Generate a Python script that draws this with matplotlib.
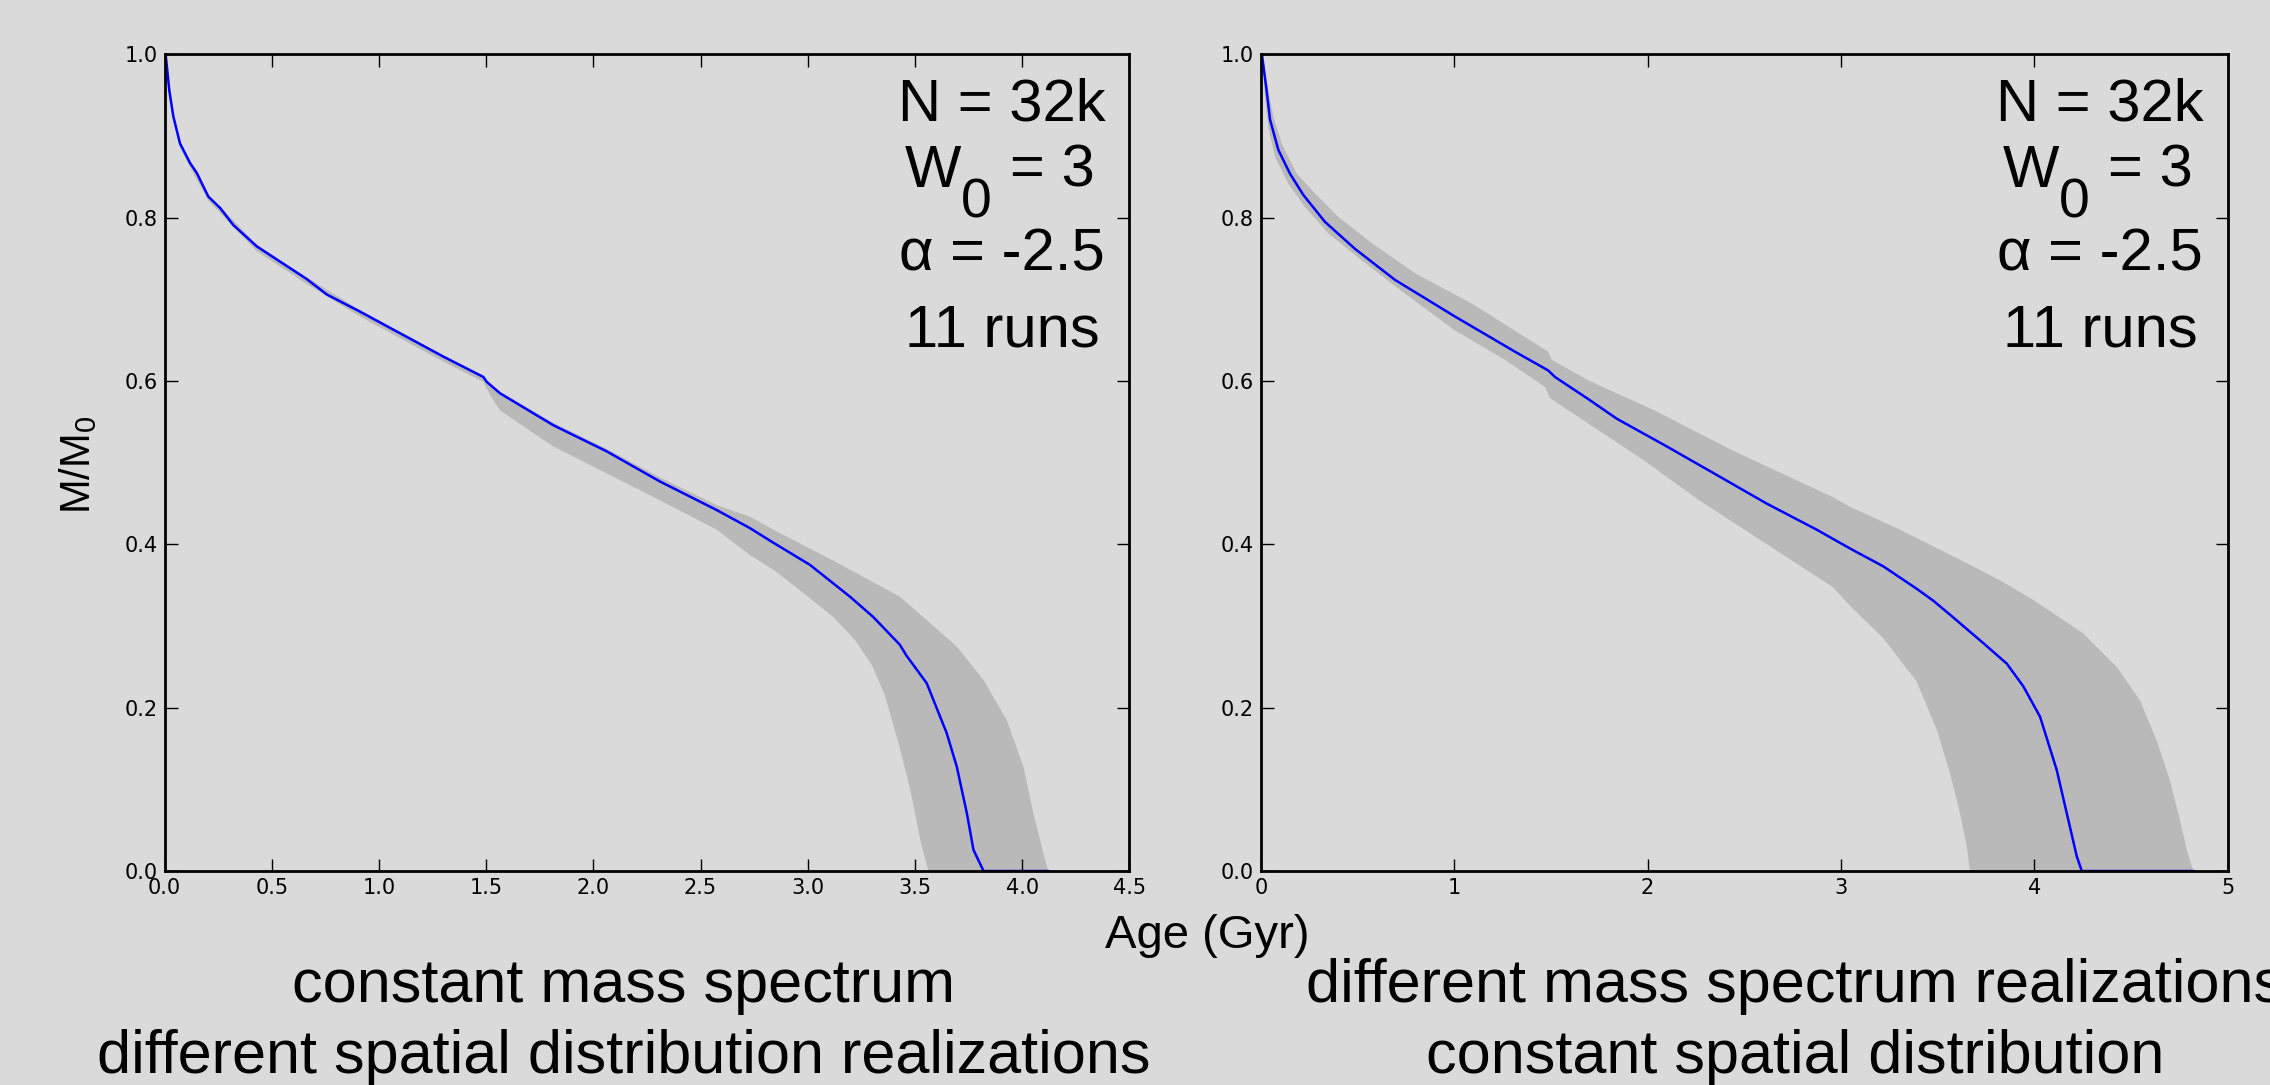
import numpy as np
import matplotlib
matplotlib.use("Agg")
import matplotlib.pyplot as plt

plt.rcParams['font.family'] = ['Liberation Sans', 'DejaVu Sans']
plt.rcParams['mathtext.fontset'] = 'custom'
plt.rcParams['mathtext.rm'] = 'Liberation Sans'
plt.rcParams['mathtext.it'] = 'Liberation Sans:italic'
plt.rcParams['mathtext.default'] = 'regular'

# left panel: constant mass spectrum, different spatial realizations
age_l = [0.005, 0.022, 0.041, 0.072, 0.119, 0.15, 0.204, 0.259, 0.321, 0.43, 0.523, 0.663,
         0.757, 0.912, 1.067, 1.30, 1.487, 1.503, 1.565, 1.813, 2.062, 2.311, 2.576, 2.73,
         2.84, 3.01, 3.197, 3.306, 3.43, 3.46, 3.555, 3.648, 3.695, 3.742, 3.773, 3.82, 4.12]
mass_l = [1.0, 0.956, 0.924, 0.891, 0.867, 0.855, 0.826, 0.812, 0.791, 0.765, 0.749, 0.725,
          0.706, 0.685, 0.663, 0.630, 0.605, 0.599, 0.585, 0.546, 0.514, 0.477, 0.442, 0.420,
          0.402, 0.375, 0.336, 0.311, 0.277, 0.264, 0.230, 0.169, 0.128, 0.071, 0.026, 0.0, 0.0]
up_age_l = [0.005, 0.022, 0.041, 0.072, 0.119, 0.204, 0.259, 0.43, 0.663, 0.912, 1.067, 1.30,
            1.487, 1.50, 1.565, 1.813, 2.062, 2.311, 2.576, 2.73, 2.84, 3.12, 3.43, 3.508,
            3.695, 3.82, 3.928, 4.006, 4.052, 4.099, 4.122]
up_mass_l = [1.0, 0.958, 0.926, 0.893, 0.869, 0.828, 0.814, 0.767, 0.727, 0.687, 0.665, 0.632,
             0.607, 0.601, 0.587, 0.549, 0.517, 0.482, 0.448, 0.434, 0.418, 0.380, 0.336, 0.318,
             0.275, 0.234, 0.185, 0.128, 0.071, 0.022, 0.0]
lo_age_l = [0.005, 0.022, 0.041, 0.072, 0.119, 0.204, 0.259, 0.43, 0.663, 0.912, 1.067, 1.30,
            1.487, 1.52, 1.565, 1.813, 2.062, 2.311, 2.576, 2.73, 2.84, 2.963, 3.12, 3.22,
            3.30, 3.36, 3.42, 3.479, 3.525, 3.563]
lo_mass_l = [0.998, 0.952, 0.919, 0.886, 0.862, 0.821, 0.806, 0.759, 0.719, 0.679, 0.657, 0.624,
             0.599, 0.582, 0.564, 0.520, 0.487, 0.454, 0.418, 0.387, 0.369, 0.344, 0.311, 0.283,
             0.252, 0.215, 0.160, 0.099, 0.038, 0.0]

# right panel: different mass spectrum realizations, constant spatial distribution
age_r = [0.005, 0.029, 0.047, 0.09, 0.15, 0.219, 0.331, 0.486, 0.693, 1.004, 1.314, 1.486,
         1.521, 1.693, 1.84, 2.099, 2.358, 2.616, 2.875, 3.047, 3.22, 3.39, 3.478, 3.564,
         3.737, 3.858, 3.944, 4.03, 4.116, 4.168, 4.22, 4.246, 4.823]
mass_r = [1.0, 0.956, 0.920, 0.883, 0.854, 0.828, 0.795, 0.762, 0.724, 0.679, 0.636, 0.613,
          0.605, 0.578, 0.554, 0.520, 0.485, 0.450, 0.418, 0.395, 0.373, 0.346, 0.331, 0.314,
          0.279, 0.254, 0.226, 0.189, 0.124, 0.071, 0.018, 0.0, 0.0]
up_age_r = [0.005, 0.038, 0.064, 0.107, 0.185, 0.279, 0.40, 0.573, 0.797, 1.09, 1.486, 1.504,
            1.693, 1.84, 2.038, 2.185, 2.44, 2.957, 3.047, 3.306, 3.651, 3.823, 3.995, 4.254,
            4.426, 4.547, 4.633, 4.702, 4.754, 4.789, 4.823]
up_mass_r = [1.0, 0.956, 0.924, 0.891, 0.854, 0.830, 0.801, 0.769, 0.732, 0.695, 0.636, 0.626,
             0.601, 0.585, 0.564, 0.546, 0.515, 0.458, 0.446, 0.418, 0.377, 0.356, 0.332, 0.291,
             0.250, 0.209, 0.160, 0.111, 0.062, 0.026, 0.0]
lo_age_r = [0.005, 0.02, 0.038, 0.072, 0.141, 0.228, 0.348, 0.521, 0.745, 1.004, 1.262, 1.469,
            1.495, 1.693, 1.98, 2.267, 2.612, 2.957, 3.047, 3.22, 3.392, 3.496, 3.564, 3.616,
            3.651, 3.668]
lo_mass_r = [1.0, 0.948, 0.911, 0.875, 0.842, 0.813, 0.781, 0.748, 0.707, 0.662, 0.626, 0.593,
             0.579, 0.548, 0.503, 0.454, 0.401, 0.348, 0.325, 0.285, 0.232, 0.173, 0.120, 0.071,
             0.030, 0.0]

xticks_l = [0.0, 0.5, 1.0, 1.5, 2.0, 2.5, 3.0, 3.5, 4.0, 4.5]
xticks_r = [0, 1, 2, 3, 4, 5]
yticks = [0.0, 0.2, 0.4, 0.6, 0.8, 1.0]
info = ["N = 32k", "α = -2.5", "11 runs"]
info_y = [0.919, 0.736, 0.642]

bg = '#dadada'
band = '#b9b9b9'

fig = plt.figure(figsize=(22.7, 10.85), dpi=100, facecolor=bg)
ax1 = fig.add_axes([0.0725, 0.1972, 0.425, 0.7526])
ax2 = fig.add_axes([0.5555, 0.1972, 0.4258, 0.7526])

panels = [
    (ax1, age_l, mass_l, up_age_l, up_mass_l, lo_age_l, lo_mass_l, 4.5, xticks_l, '%.1f'),
    (ax2, age_r, mass_r, up_age_r, up_mass_r, lo_age_r, lo_mass_r, 5, xticks_r, '%d'),
]
for ax, a, m, ua, um, la, lm, xmax, xt, fmt in panels:
    ax.set_facecolor('none')
    ax.fill(np.concatenate([ua, la[::-1]]), np.concatenate([um, lm[::-1]]),
            color=band, lw=0, zorder=1)
    ax.plot(a, m, color='#0000ff', lw=1.8, zorder=2)
    ax.set_xlim(0, xmax)
    ax.set_ylim(0, 1.0)
    ax.set_xticks(xt)
    ax.set_xticklabels([fmt % v for v in xt])
    ax.set_yticks(yticks)
    ax.set_yticklabels(['%.1f' % v for v in yticks])
    ax.tick_params(direction='in', length=9, width=1, top=True, right=True,
                   labelsize=15, pad=5, colors='black')
    for lab in ax.get_xticklabels() + ax.get_yticklabels():
        lab.set_fontfamily('DejaVu Sans')
    for sp in ax.spines.values():
        sp.set_linewidth(2)
    for txt, yy in zip(info, info_y):
        ax.text(0.868, yy, txt, transform=ax.transAxes, ha='center', va='baseline',
                fontsize=43)
    # W0 line: the subscript zero is drawn nearly full size in the original
    ax.text(0.7675, 0.838, "W", transform=ax.transAxes, ha='left', va='baseline', fontsize=43)
    ax.text(0.8255, 0.800, "0", transform=ax.transAxes, ha='left', va='baseline', fontsize=40)
    ax.text(0.876, 0.838, "= 3", transform=ax.transAxes, ha='left', va='baseline', fontsize=43)

fig.text(1207 / 2270, 1 - 948 / 1085, "Age (Gyr)", ha='center', va='baseline', fontsize=34)
fig.text(78 / 2270, 1 - 465 / 1085, "M/M$_0$", ha='center', va='center', rotation=90,
         fontsize=30)

fig.text(624 / 2270, 1 - 1002 / 1085, "constant mass spectrum", ha='center', va='baseline',
         fontsize=44)
fig.text(624 / 2270, 1 - 1073 / 1085, "different spatial distribution realizations",
         ha='center', va='baseline', fontsize=44)
fig.text(1795 / 2270, 1 - 1002 / 1085, "different mass spectrum realizations", ha='center',
         va='baseline', fontsize=44)
fig.text(1795 / 2270, 1 - 1073 / 1085, "constant spatial distribution", ha='center',
         va='baseline', fontsize=44)

fig.savefig("out.png", dpi=100, facecolor=bg)
plt.close()
